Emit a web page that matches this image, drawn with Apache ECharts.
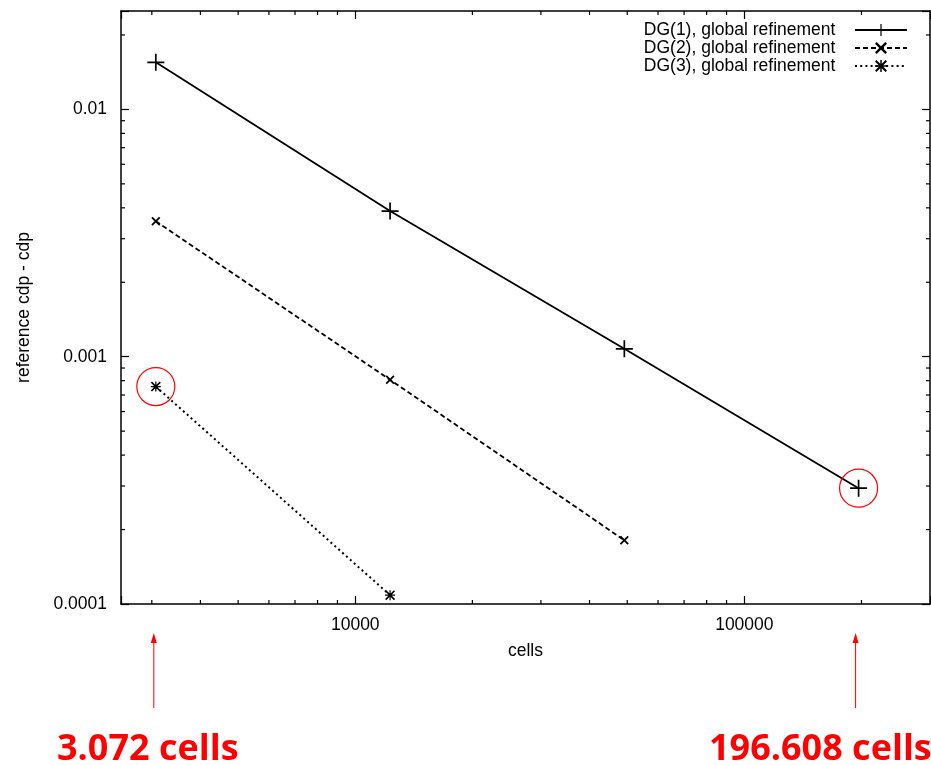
<!DOCTYPE html>
<html>
<head>
<meta charset="utf-8">
<script src="https://cdn.jsdelivr.net/npm/echarts@6/dist/echarts.min.js"></script>
<style>
  html, body, #main { width: 100%; height: 100%; margin: 0; background: #fff; }
</style>
</head>
<body>
<div id="main"></div>
<script>
// number of cells per refinement level
var cells = [3072, 12288, 49152, 196608];
// reference cdp - cdp
var dg1 = [0.0155, 0.00388, 0.001076, 0.000294];
var dg2 = [0.00353, 0.000807, 0.000181];
var dg3 = [0.000757, 0.0001086];
var names = ['DG(1), global refinement', 'DG(2), global refinement', 'DG(3), global refinement'];
var xRange = [2500, 300000];
var yRange = [0.0001, 0.025];

var FONT = 'Liberation Sans, Arial, sans-serif';
var PLUS = 'path://M0,8.1H18V9.9H0Z M8.1,0H9.9V18H8.1Z';
var CROSS = 'path://M0,1.4L1.4,0L10,8.6L8.6,10Z M8.6,0L10,1.4L1.4,10L0,8.6Z';
var STAR = 'path://M0,4.4H10V5.6H0Z M4.4,0H5.6V10H4.4Z M0,1.2L1.2,0L10,8.8L8.8,10Z M8.8,0L10,1.2L1.2,10L0,8.8Z';

function pairs(ys) {
  return ys.map(function (y, i) { return [cells[i], y]; });
}

// minor ticks at 2..9 x 10^n inside the axis ranges
function minorTicks(range) {
  var out = [];
  for (var e = -6; e <= 6; e++) {
    for (var m = 2; m <= 9; m++) {
      var v = +(m * Math.pow(10, e)).toPrecision(3);
      if (v > range[0] && v < range[1]) out.push(v);
    }
  }
  return out;
}

function isDecade(v) {
  var l = Math.log10(v);
  return Math.abs(l - Math.round(l)) < 1e-6;
}

var chart = echarts.init(document.getElementById('main'));

function logAxis(range, extra) {
  var a = {
    type: 'log',
    logBase: 10,
    min: range[0],
    max: range[1],
    axisLine: { show: true, onZero: false, lineStyle: { color: '#000', width: 1.5 } },
    axisTick: { show: true, inside: true, length: 8, lineStyle: { color: '#000', width: 1.2 } },
    splitLine: { show: false },
    minorTick: { show: false },
    axisLabel: { show: false }
  };
  for (var k in extra) a[k] = extra[k];
  return a;
}

var labelStyle = {
  show: true,
  color: '#000',
  fontSize: 17.5,
  fontFamily: FONT,
  formatter: function (v) { return isDecade(v) ? String(+v.toPrecision(1)) : ''; }
};

var xLabel = Object.assign({}, labelStyle, { margin: 12 });
var yLabel = Object.assign({}, labelStyle, { margin: 14 });

var option = {
  backgroundColor: '#fff',
  animation: false,
  grid: { left: 121, right: 1, top: 11, bottom: 161, outerBoundsMode: 'none', containLabel: false },
  legend: {
    data: names,
    orient: 'vertical',
    right: 23,
    top: 21,
    padding: 0,
    itemGap: 0,
    itemWidth: 52,
    itemHeight: 15,
    align: 'right',
    selectedMode: false,
    formatter: function (n) { return n + '   '; },
    textStyle: { color: '#000', fontSize: 17.5, fontFamily: FONT, lineHeight: 18 }
  },
  xAxis: [
    logAxis(xRange, {
      position: 'bottom',
      axisLabel: xLabel,
      name: 'cells',
      nameLocation: 'middle',
      nameGap: 38,
      nameTextStyle: { color: '#000', fontSize: 17.5, fontFamily: FONT }
    }),
    logAxis(xRange, { position: 'top' })
  ],
  yAxis: [
    logAxis(yRange, {
      position: 'left',
      axisLabel: yLabel,
      name: 'reference cdp - cdp',
      nameLocation: 'middle',
      nameGap: 88,
      nameTextStyle: { color: '#000', fontSize: 17.5, fontFamily: FONT }
    }),
    logAxis(yRange, { position: 'right' })
  ],
  series: [
    {
      name: names[0],
      type: 'line',
      data: pairs(dg1),
      symbol: PLUS,
      symbolSize: 17,
      color: '#000',
      lineStyle: { color: '#000', width: 1.8, type: 'solid' },
      itemStyle: { color: '#000' },
      markPoint: {
        silent: true,
        symbol: 'circle',
        symbolSize: 38,
        label: { show: false },
        itemStyle: { color: 'rgba(0,0,0,0)', borderColor: '#f00', borderWidth: 1.2 },
        data: [{ coord: [cells[3], dg1[3]] }]
      }
    },
    {
      name: names[1],
      type: 'line',
      data: pairs(dg2),
      symbol: CROSS,
      symbolSize: 9,
      color: '#000',
      lineStyle: { color: '#000', width: 1.8, type: [5, 3] },
      itemStyle: { color: '#000' }
    },
    {
      name: names[2],
      type: 'line',
      data: pairs(dg3),
      symbol: STAR,
      symbolSize: 10,
      color: '#000',
      lineStyle: { color: '#000', width: 2, type: [2, 3.2] },
      itemStyle: { color: '#000' },
      markPoint: {
        silent: true,
        symbol: 'circle',
        symbolSize: 38,
        label: { show: false },
        itemStyle: { color: 'rgba(0,0,0,0)', borderColor: '#f00', borderWidth: 1.2 },
        data: [{ coord: [cells[0], dg3[0]] }]
      }
    },
    {
      // minor ticks of both x axes
      type: 'custom',
      silent: true,
      clip: false,
      data: minorTicks(xRange).map(function (v) { return [v, yRange[0]]; }),
      renderItem: function (params, api) {
        var b = api.coord([api.value(0), yRange[0]]);
        var t = api.coord([api.value(0), yRange[1]]);
        var st = { stroke: '#000', lineWidth: 1.2 };
        return { type: 'group', children: [
          { type: 'line', shape: { x1: b[0], y1: b[1], x2: b[0], y2: b[1] - 4 }, style: st },
          { type: 'line', shape: { x1: t[0], y1: t[1], x2: t[0], y2: t[1] + 4 }, style: st }
        ] };
      }
    },
    {
      // minor ticks of both y axes
      type: 'custom',
      silent: true,
      clip: false,
      data: minorTicks(yRange).map(function (v) { return [xRange[0], v]; }),
      renderItem: function (params, api) {
        var l = api.coord([xRange[0], api.value(1)]);
        var r = api.coord([xRange[1], api.value(1)]);
        var st = { stroke: '#000', lineWidth: 1.2 };
        return { type: 'group', children: [
          { type: 'line', shape: { x1: l[0], y1: l[1], x2: l[0] + 4, y2: l[1] }, style: st },
          { type: 'line', shape: { x1: r[0], y1: r[1], x2: r[0] - 4, y2: r[1] }, style: st }
        ] };
      }
    }
  ]
};

chart.setOption(option);

// red arrows and captions under the first and last highlighted points
var xa = chart.convertToPixel({ xAxisIndex: 0 }, cells[0]) - 2;
var xb = chart.convertToPixel({ xAxisIndex: 0 }, cells[3]) - 3;
function arrow(x) {
  return [
    { type: 'line', shape: { x1: x, y1: 642, x2: x, y2: 708 }, style: { stroke: '#f00', lineWidth: 1 } },
    { type: 'polygon', shape: { points: [[x, 633], [x - 3, 643], [x + 3, 643]] }, style: { fill: '#f00' } }
  ];
}
var caption = { fill: '#f00', fontSize: 36, fontWeight: 'bold', fontFamily: 'Open Sans, Noto Sans, sans-serif', verticalAlign: 'middle' };
chart.setOption({
  graphic: arrow(xa).concat(arrow(xb)).concat([
    { type: 'text', x: xa - 6, y: 750, style: Object.assign({ text: '3.072 cells', align: 'center' }, caption) },
    { type: 'text', x: 709, y: 750, style: Object.assign({ text: '196.608 cells', align: 'left' }, caption) }
  ])
});
</script>
</body>
</html>
